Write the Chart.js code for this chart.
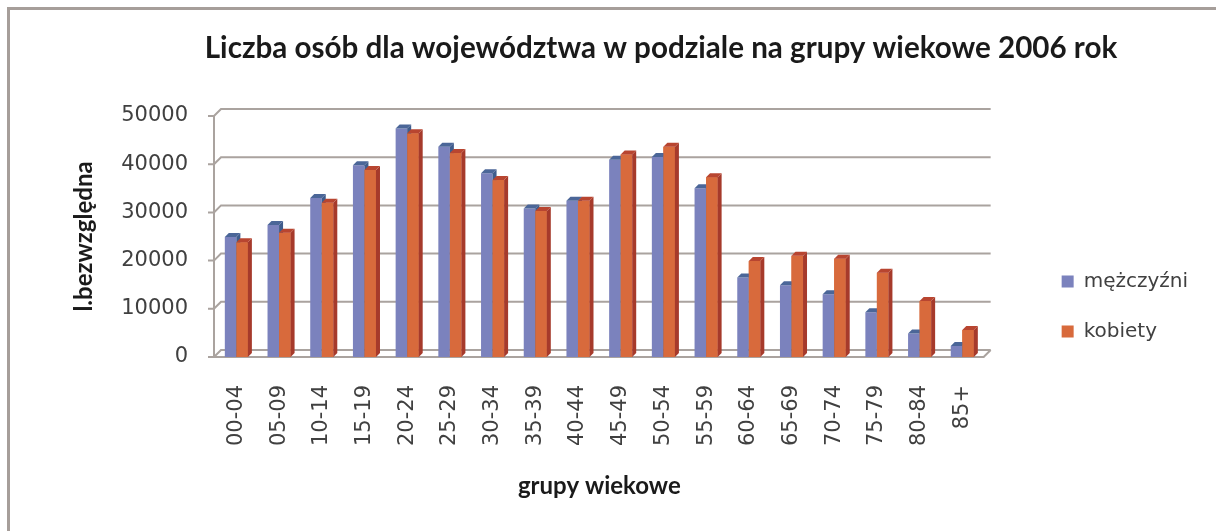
<!DOCTYPE html>
<html>
<head>
<meta charset="utf-8">
<script src="https://cdn.jsdelivr.net/npm/chart.js@4.4.1/dist/chart.umd.min.js"></script>
<style>
    html, body { margin: 0; padding: 0; background: #ffffff; }
    #wrap { width: 1216px; height: 531px; }
</style>
</head>
<body>
<div id="wrap"><canvas id="ageChart" width="1216" height="531"></canvas></div>
<script>

const categories = [
    "00-04", "05-09", "10-14", "15-19", "20-24", "25-29",
    "30-34", "35-39", "40-44", "45-49", "50-54", "55-59",
    "60-64", "65-69", "70-74", "75-79", "80-84", "85+"
];

const men = [
    24900, 27400, 33000, 39800, 47400, 43600,
    38100, 30800, 32400, 40900, 41500, 35000,
    16500, 14900, 13000, 9300, 4900, 2300
];

const women = [
    23800, 25800, 32000, 38800, 46400, 42300,
    36700, 30300, 32400, 42000, 43600, 37300,
    19900, 21000, 20400, 17500, 11600, 5600
];

const yTicks = [0, 10000, 20000, 30000, 40000, 50000];

const chartTitle = "Liczba osób dla województwa w podziale na grupy wiekowe 2006 rok";

// depth of the fake 3D look
const DEPTH_X = 4;
const DEPTH_Y = 4;
const WALL = 7;

const frameAndTitle = {
    id: "frameAndTitle",
    beforeDraw(chart) {
        const ctx = chart.ctx;
        ctx.save();
        ctx.fillStyle = "#ffffff";
        ctx.fillRect(0, 0, chart.width, chart.height);
        ctx.strokeStyle = "#a69e9a";
        ctx.lineWidth = 3;
        ctx.beginPath();
        ctx.moveTo(8.5, chart.height);
        ctx.lineTo(8.5, 8.5);
        ctx.lineTo(chart.width, 8.5);
        ctx.stroke();

        ctx.fillStyle = "#1a1a1a";
        ctx.font = "bold 29.6px Lato";
        ctx.textAlign = "center";
        ctx.textBaseline = "middle";
        ctx.fillText(chartTitle, 661, 48);
        ctx.restore();
    }
};

const wallAndGrid = {
    id: "wallAndGrid",
    beforeDatasetsDraw(chart) {
        const ctx = chart.ctx;
        const y = chart.scales.y;
        const area = chart.chartArea;
        const left = area.left - 1;
        ctx.save();
        ctx.strokeStyle = "#aaa39f";
        ctx.lineWidth = 2;

        yTicks.forEach(function (v) {
            const py = y.getPixelForValue(v);
            ctx.beginPath();
            ctx.moveTo(left - 6, py);
            ctx.lineTo(left, py);
            ctx.lineTo(left + WALL, py - WALL);
            ctx.lineTo(area.right + WALL, py - WALL);
            ctx.stroke();
        });

        ctx.beginPath();
        ctx.moveTo(left, y.getPixelForValue(50000));
        ctx.lineTo(left, area.bottom);
        ctx.lineTo(area.right, area.bottom);
        ctx.lineTo(area.right + WALL, area.bottom - WALL);
        ctx.stroke();
        ctx.restore();
    }
};

function drawFace(ctx, color, pts) {
    ctx.fillStyle = color;
    ctx.beginPath();
    ctx.moveTo(pts[0][0], pts[0][1]);
    for (let k = 1; k < pts.length; k++) ctx.lineTo(pts[k][0], pts[k][1]);
    ctx.closePath();
    ctx.fill();
}

// side and top faces, drawn per category so the right bar hides the left one's side
const bars3d = {
    id: "bars3d",
    afterDatasetsDraw(chart) {
        const ctx = chart.ctx;
        const sets = chart.data.datasets;
        ctx.save();
        for (let i = 0; i < categories.length; i++) {
            sets.forEach(function (ds, di) {
                const bar = chart.getDatasetMeta(di).data[i];
                const p = bar.getProps(["x", "y", "base", "width"], true);
                const l = p.x - p.width / 2;
                const r = p.x + p.width / 2;
                if (di > 0) {
                    ctx.fillStyle = ds.backgroundColor;
                    ctx.fillRect(l, p.y, p.width, p.base - p.y);
                }
                drawFace(ctx, ds.sideColor, [
                    [r, p.y], [r + DEPTH_X, p.y - DEPTH_Y],
                    [r + DEPTH_X, p.base - DEPTH_Y], [r, p.base]
                ]);
                drawFace(ctx, ds.topColor, [
                    [l, p.y], [l + DEPTH_X, p.y - DEPTH_Y],
                    [r + DEPTH_X, p.y - DEPTH_Y], [r, p.y]
                ]);
            });
        }
        ctx.restore();
    }
};

const ctx = document.getElementById("ageChart");

new Chart(ctx, {

    type: "bar",

    data: {
        labels: categories,
        datasets: [
            {
                label: "mężczyźni",
                data: men,
                backgroundColor: "#7b82bd",
                sideColor: "#3f5c8c",
                topColor: "#4b6698"
            },
            {
                label: "kobiety",
                data: women,
                backgroundColor: "#d86a3c",
                sideColor: "#a63a2b",
                topColor: "#b84530"
            }
        ]
    },

    options: {
        responsive: false,
        animation: false,
        devicePixelRatio: 1,
        categoryPercentage: 0.54,
        barPercentage: 1,
        layout: {
            padding: { top: 116, right: 18, bottom: 34, left: 0 }
        },
        plugins: {
            title: { display: false },
            tooltip: { enabled: false },
            legend: {
                position: "right",
                align: "center",
                labels: {
                    boxWidth: 12,
                    boxHeight: 12,
                    padding: 30,
                    color: "#404040",
                    font: { family: "DejaVu Sans", size: 20 }
                }
            }
        },
        scales: {
            x: {
                grid: { display: false, drawTicks: false },
                border: { display: false },
                ticks: {
                    autoSkip: false,
                    minRotation: 90,
                    maxRotation: 90,
                    padding: 28,
                    color: "#404040",
                    font: { family: "DejaVu Sans", size: 21 }
                },
                title: {
                    display: true,
                    text: "grupy wiekowe",
                    color: "#1a1a1a",
                    font: { family: "Lato", size: 24, weight: "bold" },
                    padding: { top: 0, bottom: -4 }
                },
                afterFit(scale) {
                    scale.height = 140;
                }
            },
            y: {
                min: 0,
                max: 50000,
                afterBuildTicks(scale) {
                    scale.ticks = yTicks.map(v => ({ value: v }));
                },
                grid: { display: false, drawTicks: false },
                border: { display: false },
                ticks: {
                    padding: 27,
                    color: "#404040",
                    font: { family: "DejaVu Sans", size: 21 },
                    callback: v => String(v)
                },
                title: {
                    display: true,
                    text: "l.bezwzględna",
                    color: "#1a1a1a",
                    font: { family: "Lato", size: 24, weight: "bold" },
                    padding: { top: 70, bottom: 0 }
                },
                afterFit(scale) {
                    scale.width = 215;
                }
            },
            gap: {
                position: "right",
                display: true,
                grid: { display: false, drawTicks: false },
                border: { display: false },
                ticks: { display: false },
                afterFit(scale) {
                    scale.width = 48;
                }
            }
        }
    },

    plugins: [frameAndTitle, wallAndGrid, bars3d]

});

</script>
</body>
</html>
